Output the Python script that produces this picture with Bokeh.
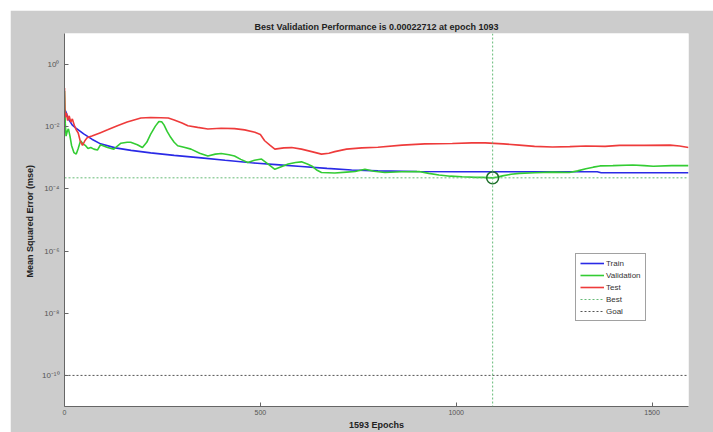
import numpy as np
from bokeh.plotting import figure
from bokeh.layouts import column, row
from bokeh.models import Range1d, FixedTicker, Span, Legend, LegendItem, Spacer
from bokeh.embed import file_html
from bokeh.resources import INLINE

# ---- data (log10 of the MSE on the log axis) ----
train_epochs = [0, 3, 10, 20, 30, 49, 70, 92, 130, 170, 220, 280, 349, 410, 477,
                540, 605, 670, 733, 800, 900, 1000, 1100, 1200, 1360, 1370, 1593]
train_log10_mse = [-1.45, -1.5, -1.75, -1.95, -2.05, -2.23, -2.4, -2.55, -2.68, -2.76,
                   -2.84, -2.92, -3.0, -3.08, -3.16, -3.22, -3.28, -3.34, -3.39, -3.42,
                   -3.44, -3.45, -3.45, -3.45, -3.45, -3.48, -3.48]

val_epochs = [0, 2, 4, 7, 10, 14, 18, 24, 30, 35, 41, 47, 54, 60, 67, 75, 84, 92, 100,
              110, 126, 135, 144, 160, 169, 186, 199, 210, 220, 232, 241, 248, 254, 262,
              271, 280, 289, 305, 323, 345, 366, 385, 400, 420, 434, 450, 468, 485, 503,
              520, 537, 555, 571, 590, 605, 620, 631, 645, 656, 690, 720, 742, 767, 790,
              818, 860, 905, 930, 956, 985, 1015, 1050, 1067, 1093, 1105, 1118, 1140,
              1161, 1200, 1246, 1289, 1310, 1331, 1350, 1367, 1400, 1451, 1480, 1503,
              1550, 1593]
val_log10_mse = [-0.85, -1.9, -2.3, -2.15, -2.07, -2.3, -2.6, -2.83, -2.88, -2.7, -2.45,
                 -2.55, -2.61, -2.7, -2.67, -2.72, -2.75, -2.58, -2.62, -2.67, -2.72,
                 -2.62, -2.53, -2.5, -2.5, -2.58, -2.67, -2.5, -2.24, -1.98, -1.83, -1.84,
                 -1.94, -2.15, -2.34, -2.5, -2.61, -2.66, -2.72, -2.85, -2.94, -2.88,
                 -2.86, -2.9, -2.94, -3.05, -3.15, -3.08, -3.04, -3.2, -3.37, -3.28, -3.2,
                 -3.15, -3.13, -3.2, -3.26, -3.4, -3.47, -3.49, -3.46, -3.44, -3.37,
                 -3.43, -3.47, -3.45, -3.44, -3.5, -3.55, -3.59, -3.61, -3.63, -3.63,
                 -3.644, -3.62, -3.58, -3.53, -3.5, -3.48, -3.46, -3.47, -3.42, -3.35,
                 -3.3, -3.26, -3.25, -3.23, -3.25, -3.27, -3.25, -3.25]

test_epochs = [0, 1, 2, 5, 8, 12, 16, 20, 25, 30, 35, 40, 46, 52, 58, 70, 92, 110, 135,
               160, 195, 220, 246, 265, 280, 300, 315, 340, 366, 400, 434, 460, 486, 500,
               511, 525, 537, 560, 580, 605, 631, 656, 675, 690, 720, 759, 800, 862, 920,
               990, 1040, 1074, 1120, 1161, 1200, 1246, 1290, 1331, 1380, 1417, 1480,
               1546, 1570, 1593]
test_log10_mse = [-0.75, -1.5, -1.7, -1.55, -1.8, -1.65, -1.85, -1.75, -1.95, -2.1, -2.2,
                  -2.45, -2.6, -2.45, -2.35, -2.3, -2.19, -2.1, -1.97, -1.85, -1.72, -1.7,
                  -1.71, -1.72, -1.78, -1.88, -1.97, -2.02, -2.07, -2.05, -2.06, -2.1,
                  -2.18, -2.25, -2.45, -2.6, -2.72, -2.68, -2.67, -2.72, -2.8, -2.88,
                  -2.85, -2.8, -2.72, -2.68, -2.66, -2.59, -2.55, -2.54, -2.52, -2.52,
                  -2.55, -2.59, -2.63, -2.65, -2.64, -2.62, -2.63, -2.6, -2.6, -2.59,
                  -2.62, -2.67]

best_epoch = 1093
best_mse = 0.00022712
goal_mse = 1e-10
total_epochs = 1593

x_tick_values = [0, 500, 1000, 1500]
y_tick_values = [1e0, 1e-2, 1e-4, 1e-6, 1e-8, 1e-10]
y_tick_labels = ["10\u2070", "10\u207b\u00b2", "10\u207b\u2074", "10\u207b\u2076",
                 "10\u207b\u2078", "10\u207b\u00b9\u2070"]
y_limits = [1e-11, 1e1]

series_names = ["Train", "Validation", "Test", "Best", "Goal"]

FONT = "Liberation Sans"

p = figure(width=703, height=422, y_axis_type="log",
           x_range=Range1d(0, total_epochs), y_range=Range1d(*y_limits),
           output_backend="svg", toolbar_location=None,
           title=f"Best Validation Performance is {best_mse:.8f} at epoch {best_epoch}",
           min_border_left=54, min_border_right=25, min_border_top=23, min_border_bottom=26)

p.background_fill_color = "white"
p.border_fill_color = "#cccccc"
p.outline_line_color = None
p.grid.visible = False

p.title.align = "center"
p.title.text_font = FONT
p.title.text_font_size = "9px"
p.title.text_font_style = "bold"
p.title.text_color = "#222222"
p.title.standoff = 4

for ax in (p.xaxis, p.yaxis):
    ax.axis_line_color = "#666666"
    ax.major_tick_line_color = "#666666"
    ax.major_tick_in = 4
    ax.major_tick_out = 0
    ax.minor_tick_in = 0
    ax.minor_tick_out = 0
    ax.major_label_text_font = FONT
    ax.major_label_text_font_size = "7px"
    ax.major_label_text_color = "#555555"
    ax.axis_label_text_font = FONT
    ax.axis_label_text_font_size = "9px"
    ax.axis_label_text_font_style = "bold"
    ax.axis_label_text_color = "#222222"

p.xaxis.ticker = FixedTicker(ticks=x_tick_values)
p.yaxis.ticker = FixedTicker(ticks=y_tick_values)
p.yaxis.major_label_overrides = dict(zip(y_tick_values, y_tick_labels))
p.yaxis.major_label_text_font_size = "8px"
p.xaxis.axis_label = f"{total_epochs} Epochs"
p.yaxis.axis_label = "Mean Squared Error  (mse)"
p.xaxis.major_label_standoff = 3
p.xaxis.axis_label_standoff = 2
p.yaxis.major_label_standoff = 5
p.yaxis.axis_label_standoff = 4

r_train = p.line(train_epochs, 10 ** np.array(train_log10_mse), line_color="#2a2ae6", line_width=1.6)
r_val = p.line(val_epochs, 10 ** np.array(val_log10_mse), line_color="#33cc33", line_width=1.6)
r_test = p.line(test_epochs, 10 ** np.array(test_log10_mse), line_color="#ee3b3b", line_width=1.6)
r_best = p.line([0, total_epochs], [best_mse, best_mse], line_color="#66bb77",
                line_dash="2 2", line_width=1)
r_goal = p.line([0, total_epochs], [goal_mse, goal_mse], line_color="#555555",
                line_dash="2 2", line_width=1)
p.add_layout(Span(location=best_epoch, dimension="height", line_color="#66bb77",
                  line_dash="2 2", line_width=1))
p.scatter([best_epoch], [best_mse], marker="circle", size=12, fill_color=None,
          line_color="#1e6e2a", line_width=1.5)

legend = Legend(items=[LegendItem(label=n, renderers=[r]) for n, r in
                       zip(series_names, [r_train, r_val, r_test, r_best, r_goal])],
                location=(511, 85))
legend.label_text_font = FONT
legend.label_text_font_size = "8px"
legend.label_text_color = "#333333"
legend.label_height = 10
legend.glyph_height = 10
legend.glyph_width = 24
legend.label_standoff = 2
legend.spacing = 2
legend.padding = 4
legend.margin = 0
legend.border_line_color = "#444444"
legend.border_line_width = 1
legend.background_fill_color = "white"
legend.background_fill_alpha = 1
p.add_layout(legend)

page = column(Spacer(height=10, width=713), row(Spacer(width=10, height=422), p), spacing=0)

open("out.html", "w").write(file_html(page, INLINE))
